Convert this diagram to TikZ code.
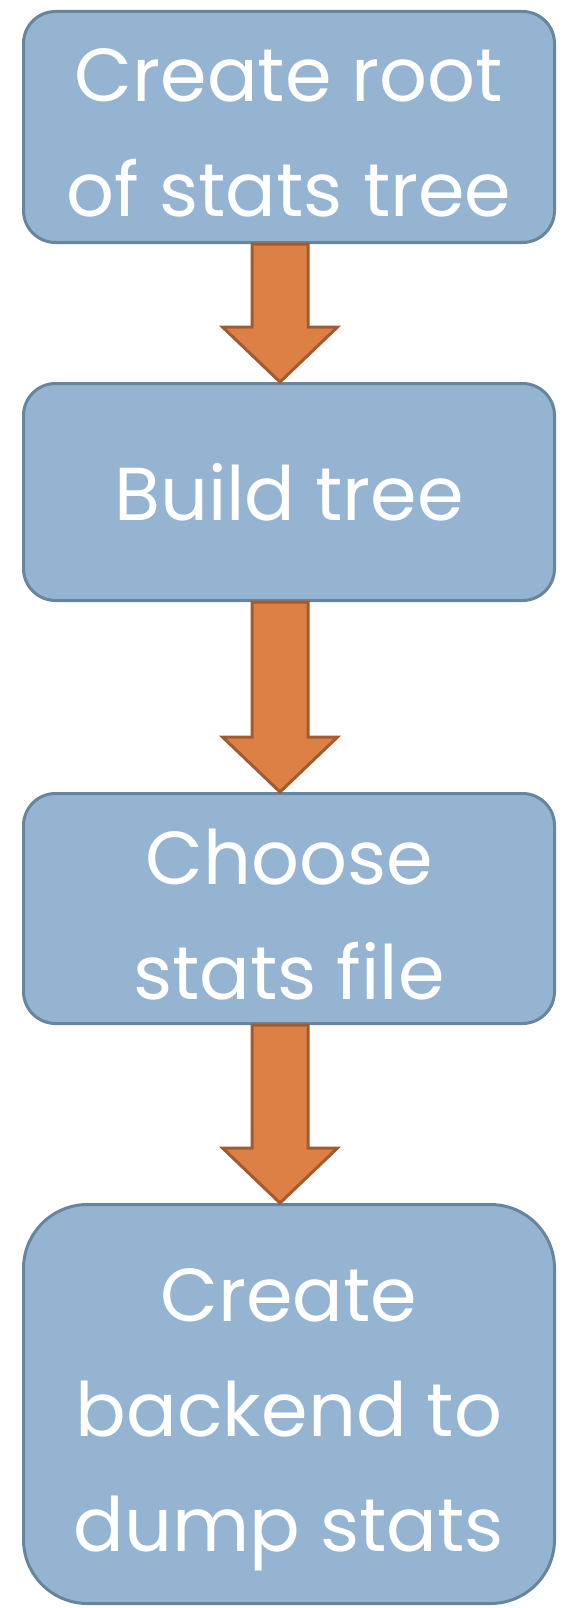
\documentclass[tikz,border=0pt]{standalone}
\usepackage{fontspec}
\setmainfont{Poppins}
\usetikzlibrary{calc}
\definecolor{boxfill}{RGB}{149,180,210}
\definecolor{boxline}{RGB}{104,133,158}
\definecolor{arrfill}{RGB}{221,128,70}
\definecolor{arrline}{RGB}{165,90,46}
\begin{document}
\begin{tikzpicture}[x=1pt,y=1pt,
  stepbox/.style={draw=boxline,fill=boxfill,line width=3pt,rounded corners=32pt,
    minimum width=531pt,inner sep=0pt},
  steptext/.style={inner sep=0pt,align=center,text=white,
    font=\fontsize{75}{115}\selectfont},
  bigarrow/.style={draw=arrline,fill=arrfill,line width=3pt,line join=miter}]
\useasboundingbox (0,0) rectangle (569,-1608);
\node[stepbox,minimum height=231pt] (b1) at (289,-127) {};
\node[stepbox,minimum height=217pt] (b2) at (289,-492) {};
\node[stepbox,minimum height=230pt] (b3) at (289,-908.5) {};
\node[stepbox,minimum height=399pt,rounded corners=64pt] (b4) at (289,-1404) {};
\node[steptext] (t1) at ($(b1.center)+(0,-6)$) {Create root\\of stats tree};
\node[steptext] (t2) at ($(b2.center)+(0,0)$) {Build tree};
\node[steptext] (t3) at ($(b3.center)+(0,-6)$) {Choose\\stats file};
\node[steptext] (t4) at ($(b4.center)+(0,-16)$) {Create\\backend to\\dump stats};
\foreach \a/\b in {b1/b2,b2/b3,b3/b4}{
  \draw[bigarrow] ($(\a.south)+(-37,0)$) -- ($(\b.north)+(-37,55)$) -- ($(\b.north)+(-66.5,55)$)
    -- ($(\b.north)+(-9,0)$) -- ($(\b.north)+(48.5,55)$) -- ($(\b.north)+(19,55)$)
    -- ($(\a.south)+(19,0)$) -- cycle;
}
\end{tikzpicture}
\end{document}
